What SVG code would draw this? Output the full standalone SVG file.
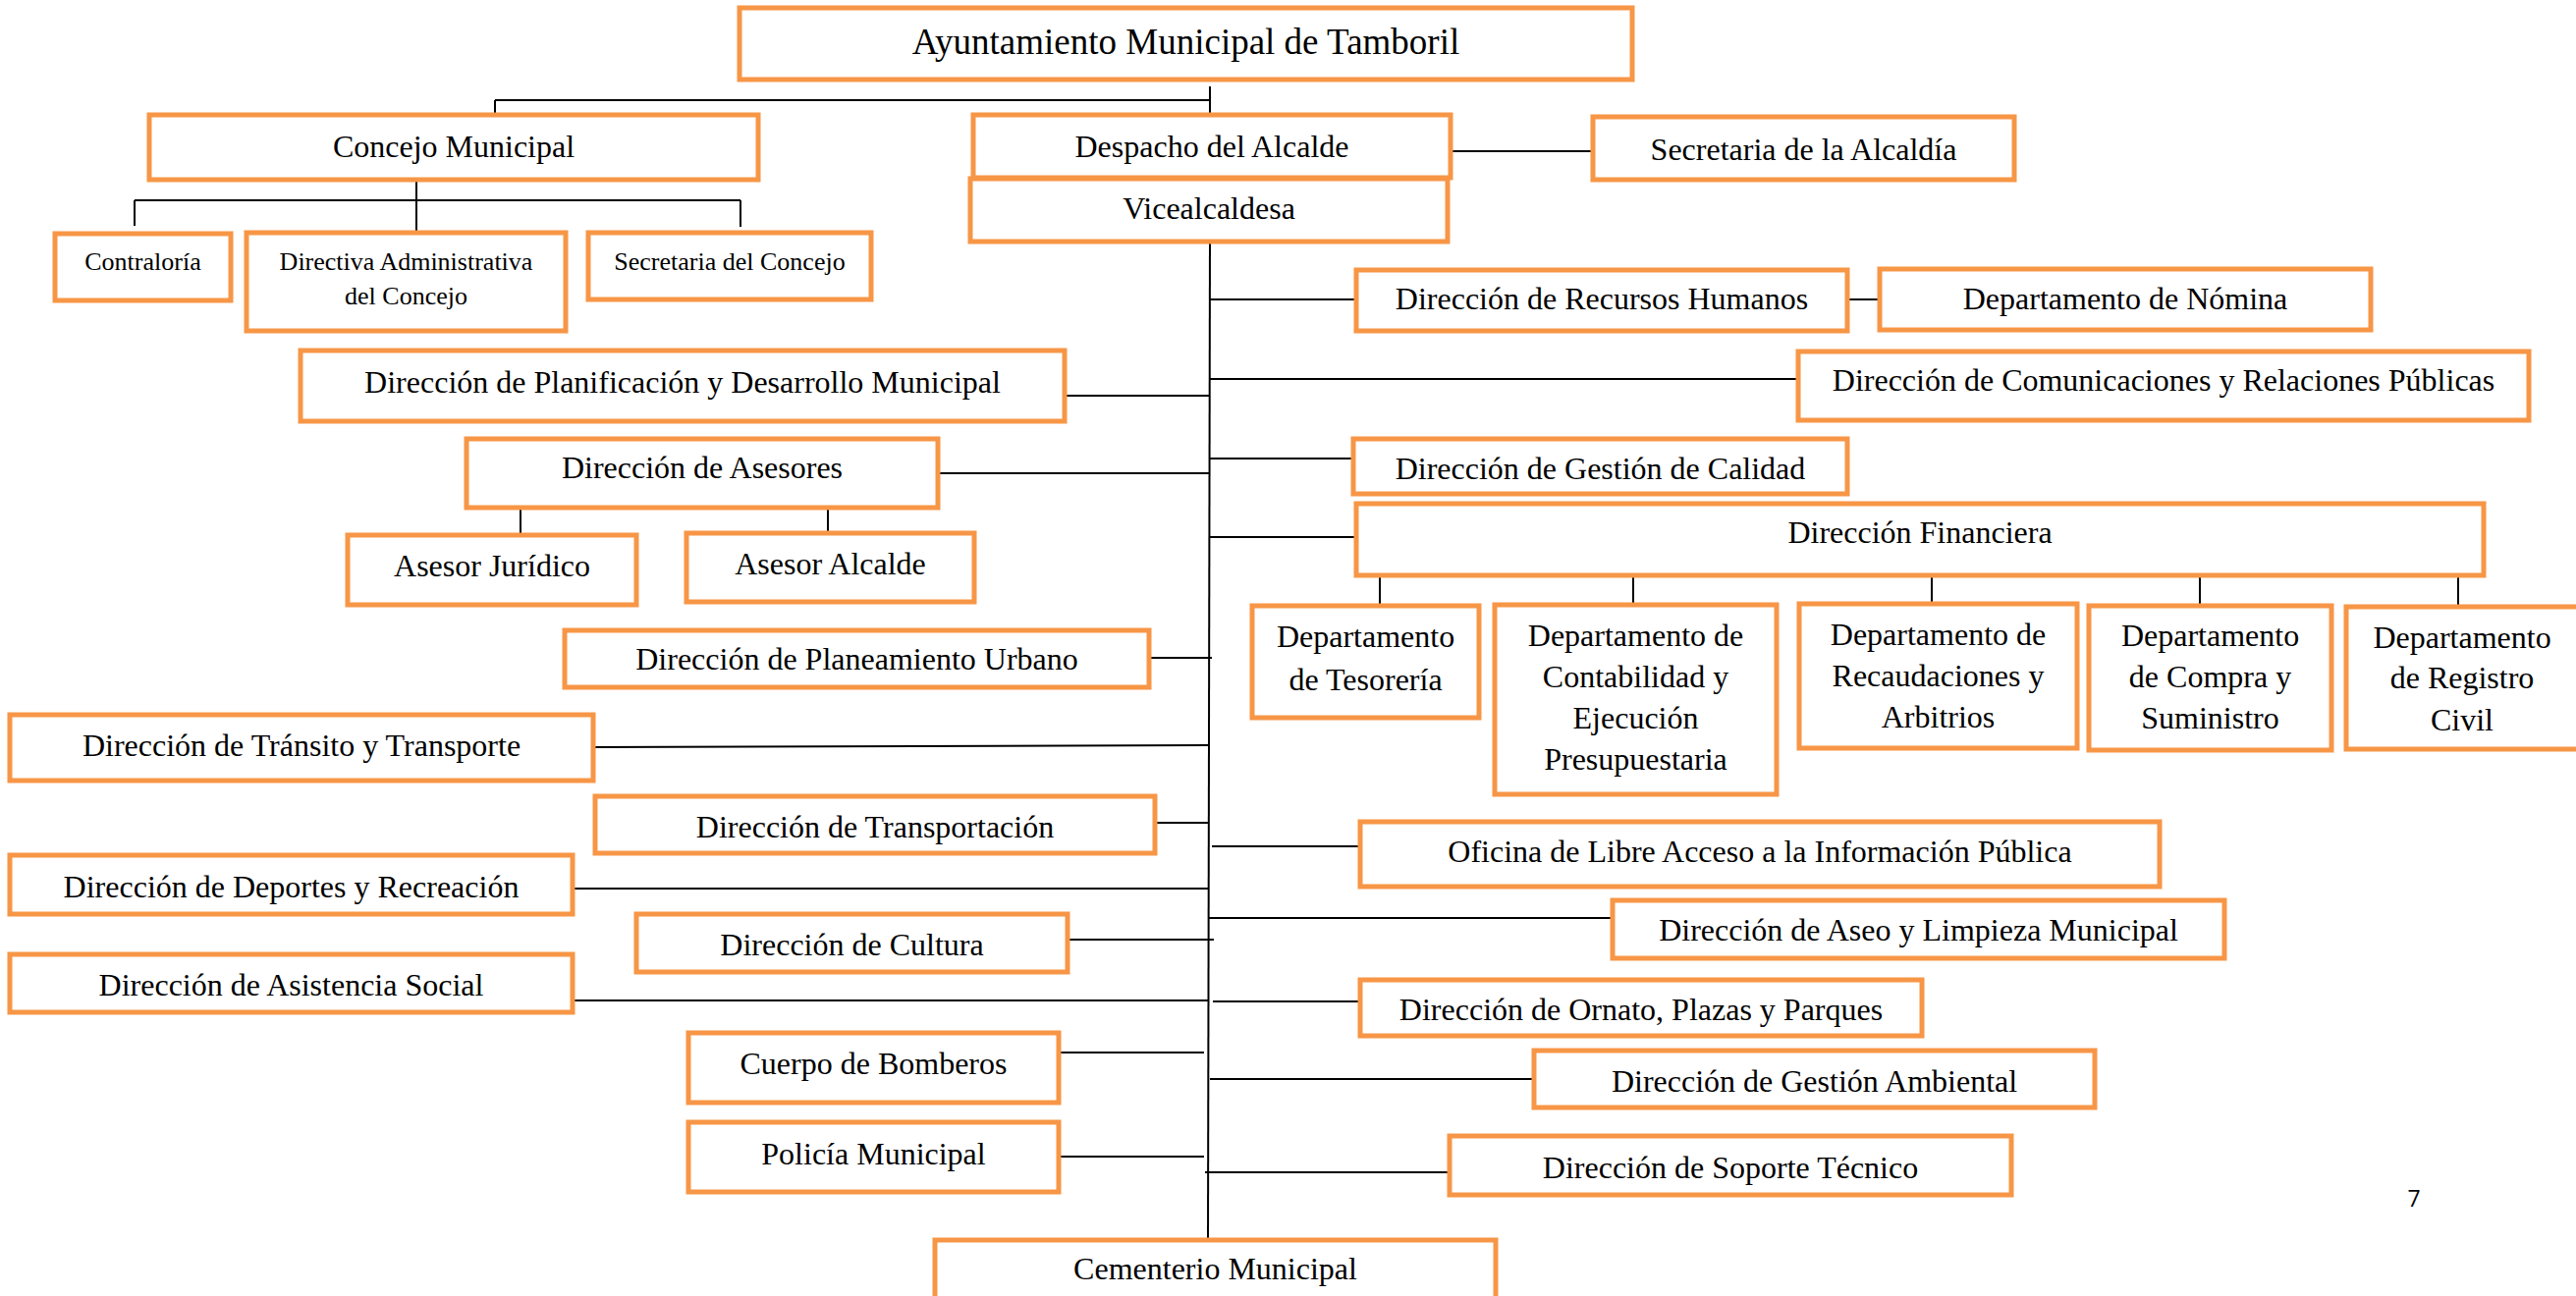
<svg xmlns="http://www.w3.org/2000/svg" width="2623" height="1320" viewBox="0 0 2623 1320">
<style>
.box{fill:#fff;stroke:#F79646;stroke-width:5}
.t{font-family:"Liberation Serif","Times New Roman",serif;font-size:32px;fill:#000;text-anchor:middle}
.s{font-size:26px}
.c{stroke:#000;stroke-width:2;fill:none}
</style>
<rect width="2623" height="1320" fill="#fff"/>
<g id="connectors" class="c">
<path d="M1232 88V117M504 102H1232M504 102V117"/>
<path d="M424 183V204M137 204H754M137 204V230M424 204V237M754 204V231"/>
<path d="M1477 154H1622"/>
<path d="M1232 246L1230 1263"/>
<path d="M1232 305H1381M1881 305H1914"/>
<path d="M1232 386H1831"/>
<path d="M1084 403H1232"/>
<path d="M955 482H1232M530 517V545M843 517V543"/>
<path d="M1232 467H1378"/>
<path d="M1232 547H1381M1405 586V617M1663 586V616M1967 586V615M2240 586V617M2503 586V618"/>
<path d="M1170 670H1234"/>
<path d="M604 761L1231 759"/>
<path d="M1176 838H1231"/>
<path d="M583 905H1231"/>
<path d="M1087 957H1236"/>
<path d="M583 1019H1231"/>
<path d="M1078 1072H1226M1078 1178H1226"/>
<path d="M1234 862H1385"/>
<path d="M1231 935H1642"/>
<path d="M1235 1020H1385"/>
<path d="M1232 1099H1562"/>
<path d="M1227 1194H1476"/>
</g>
<g id="ayuntamiento"><rect class="box" x="753" y="8" width="909" height="73"/><text class="t" x="1207.5" y="55" style="font-size:37px">Ayuntamiento Municipal de Tamboril</text></g>
<g id="concejo"><rect class="box" x="152" y="117" width="620" height="66"/><text class="t" x="462" y="160">Concejo Municipal</text></g>
<g id="contraloria"><rect class="box" x="56" y="238" width="179" height="68"/><text class="t s" x="145.5" y="275">Contraloría</text></g>
<g id="directiva"><rect class="box" x="251" y="237" width="325" height="100"/><text class="t s" x="413.5" y="275">Directiva Administrativa</text><text class="t s" x="413.5" y="310">del Concejo</text></g>
<g id="secretaria-concejo"><rect class="box" x="599" y="237" width="288" height="68"/><text class="t s" x="743" y="275">Secretaria del Concejo</text></g>
<g id="despacho"><rect class="box" x="991" y="117" width="486" height="64"/><text class="t" x="1234" y="160">Despacho del Alcalde</text></g>
<g id="vicealcaldesa"><rect class="box" x="988" y="182" width="486" height="64"/><text class="t" x="1231" y="223">Vicealcaldesa</text></g>
<g id="secretaria-alcaldia"><rect class="box" x="1622" y="119" width="429" height="64"/><text class="t" x="1836.5" y="163">Secretaria de la Alcaldía</text></g>
<g id="rrhh"><rect class="box" x="1381" y="275" width="500" height="62"/><text class="t" x="1631" y="315">Dirección de Recursos Humanos</text></g>
<g id="nomina"><rect class="box" x="1914" y="274" width="500" height="62"/><text class="t" x="2164" y="315">Departamento de Nómina</text></g>
<g id="comunicaciones"><rect class="box" x="1831" y="358" width="744" height="70"/><text class="t" x="2203" y="398">Dirección de Comunicaciones y Relaciones Públicas</text></g>
<g id="planificacion"><rect class="box" x="306" y="357" width="778" height="72"/><text class="t" x="695" y="400">Dirección de Planificación y Desarrollo Municipal</text></g>
<g id="asesores"><rect class="box" x="475" y="447" width="480" height="70"/><text class="t" x="715" y="487">Dirección de Asesores</text></g>
<g id="asesor-juridico"><rect class="box" x="354" y="545" width="294" height="71"/><text class="t" x="501" y="587">Asesor Jurídico</text></g>
<g id="asesor-alcalde"><rect class="box" x="699" y="543" width="293" height="70"/><text class="t" x="845.5" y="585">Asesor Alcalde</text></g>
<g id="calidad"><rect class="box" x="1378" y="447" width="503" height="56"/><text class="t" x="1629.5" y="488">Dirección de Gestión de Calidad</text></g>
<g id="financiera"><rect class="box" x="1381" y="513" width="1148" height="73"/><text class="t" x="1955" y="553">Dirección Financiera</text></g>
<g id="tesoreria"><rect class="box" x="1275" y="617" width="231" height="114"/><text class="t" x="1390.5" y="659">Departamento</text><text class="t" x="1390.5" y="703">de Tesorería</text></g>
<g id="contabilidad"><rect class="box" x="1522" y="616" width="287" height="193"/><text class="t" x="1665.5" y="658">Departamento de</text><text class="t" x="1665.5" y="700">Contabilidad y</text><text class="t" x="1665.5" y="742">Ejecución</text><text class="t" x="1665.5" y="784">Presupuestaria</text></g>
<g id="recaudaciones"><rect class="box" x="1832" y="615" width="283" height="147"/><text class="t" x="1973.5" y="657">Departamento de</text><text class="t" x="1973.5" y="699">Recaudaciones y</text><text class="t" x="1973.5" y="741">Arbitrios</text></g>
<g id="compra"><rect class="box" x="2127" y="617" width="247" height="147"/><text class="t" x="2250.5" y="658">Departamento</text><text class="t" x="2250.5" y="700">de Compra y</text><text class="t" x="2250.5" y="742">Suministro</text></g>
<g id="registro"><rect class="box" x="2389" y="618" width="237" height="145"/><text class="t" x="2507" y="660">Departamento</text><text class="t" x="2507" y="701">de Registro</text><text class="t" x="2507" y="744">Civil</text></g>
<g id="planeamiento"><rect class="box" x="575" y="642" width="595" height="58"/><text class="t" x="872.5" y="682">Dirección de Planeamiento Urbano</text></g>
<g id="transito"><rect class="box" x="10" y="728" width="594" height="67"/><text class="t" x="307" y="770">Dirección de Tránsito y Transporte</text></g>
<g id="transportacion"><rect class="box" x="606" y="811" width="570" height="58"/><text class="t" x="891" y="853">Dirección de Transportación</text></g>
<g id="deportes"><rect class="box" x="10" y="871" width="573" height="60"/><text class="t" x="296.5" y="914">Dirección de Deportes y Recreación</text></g>
<g id="cultura"><rect class="box" x="648" y="931" width="439" height="59"/><text class="t" x="867.5" y="973">Dirección de Cultura</text></g>
<g id="asistencia"><rect class="box" x="10" y="972" width="573" height="59"/><text class="t" x="296.5" y="1014">Dirección de Asistencia Social</text></g>
<g id="bomberos"><rect class="box" x="701" y="1052" width="377" height="71"/><text class="t" x="889.5" y="1094">Cuerpo de Bomberos</text></g>
<g id="policia"><rect class="box" x="701" y="1143" width="377" height="71"/><text class="t" x="889.5" y="1186">Policía Municipal</text></g>
<g id="cementerio"><rect class="box" x="952" y="1263" width="571" height="62"/><text class="t" x="1237.5" y="1303">Cementerio Municipal</text></g>
<g id="libre-acceso"><rect class="box" x="1385" y="837" width="814" height="66"/><text class="t" x="1792" y="878">Oficina de Libre Acceso a la Información Pública</text></g>
<g id="aseo"><rect class="box" x="1642" y="917" width="623" height="59"/><text class="t" x="1953.5" y="958">Dirección de Aseo y Limpieza Municipal</text></g>
<g id="ornato"><rect class="box" x="1385" y="998" width="572" height="57"/><text class="t" x="1671" y="1039">Dirección de Ornato, Plazas y Parques</text></g>
<g id="ambiental"><rect class="box" x="1562" y="1070" width="571" height="58"/><text class="t" x="1847.5" y="1112">Dirección de Gestión Ambiental</text></g>
<g id="soporte"><rect class="box" x="1476" y="1157" width="572" height="60"/><text class="t" x="1762" y="1200">Dirección de Soporte Técnico</text></g>
<text x="2458" y="1229" style="font-family:'Open Sans','Liberation Sans',sans-serif;font-size:23px;fill:#000;text-anchor:middle">7</text>
</svg>
